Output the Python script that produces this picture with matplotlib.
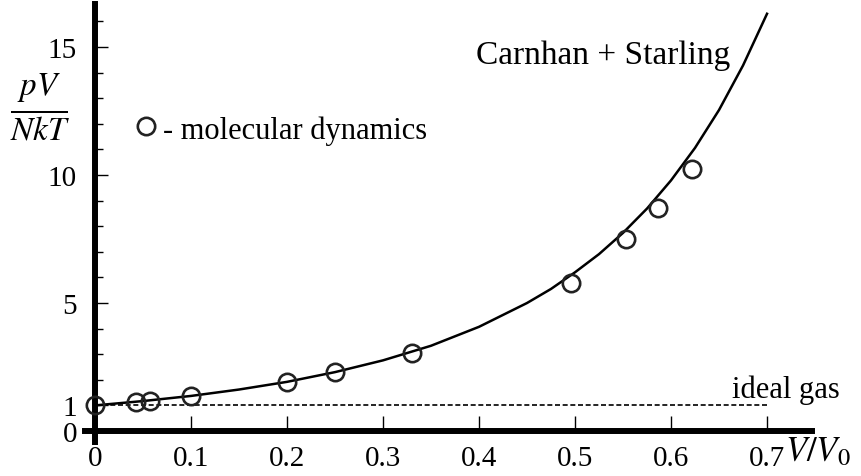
import matplotlib
matplotlib.use('Agg')
import matplotlib.pyplot as plt

plt.rcParams['font.family'] = ['Liberation Serif', 'DejaVu Serif']
plt.rcParams['mathtext.fontset'] = 'stix'

# Carnahan-Starling curve
cs_x = [0.0, 0.05, 0.1, 0.15, 0.2, 0.25, 0.3, 0.35, 0.4, 0.45, 0.475, 0.5,
        0.525, 0.55, 0.575, 0.6, 0.625, 0.65, 0.675, 0.7]
cs_y = [1.0, 1.17, 1.37, 1.62, 1.92, 2.30, 2.76, 3.33, 4.07, 5.0, 5.55, 6.2,
        6.91, 7.74, 8.69, 9.79, 11.06, 12.54, 14.28, 16.3]

# molecular dynamics points
md_x = [0.0, 0.043, 0.057, 0.1, 0.2, 0.25, 0.33, 0.496, 0.553, 0.586, 0.622]
md_y = [1.0, 1.12, 1.16, 1.36, 1.9, 2.3, 3.05, 5.8, 7.5, 8.7, 10.25]

# ideal gas
ig_x = [0.0, 0.7]
ig_y = [1.0, 1.0]

xticks = [0, 0.1, 0.2, 0.3, 0.4, 0.5, 0.6, 0.7]
xlabels = ['0', '0.1', '0.2', '0.3', '0.4', '0.5', '0.6', '0.7']
yticks = [0, 1, 5, 10, 15]
yminor = [2, 3, 4, 6, 7, 8, 9, 11, 12, 13, 14, 16]

fig = plt.figure(figsize=(8.62, 4.77), dpi=100)
ax = fig.add_axes([0.0957, 0.0675, 0.8498, 0.923])

ax.plot(ig_x, ig_y, color='black', lw=1.2, ls=(0, (3, 1.6)))
ax.plot(cs_x, cs_y, color='black', lw=1.8)
ax.plot(md_x, md_y, ls='none', marker='o', ms=12.5, mfc='none', mec='#222222', mew=1.9,
        clip_on=False, zorder=5)

ax.set_xlim(-0.013, 0.75)
ax.set_ylim(-0.5, 16.7)

for s in ['top', 'right']:
    ax.spines[s].set_visible(False)
ax.spines['left'].set_position(('data', 0))
ax.spines['bottom'].set_position(('data', 0))
ax.spines['left'].set_linewidth(4.3)
ax.spines['bottom'].set_linewidth(4.3)
ax.spines['left'].set_bounds(-0.43, 16.7)
ax.spines['bottom'].set_bounds(-0.0104, 0.747)

ax.set_xticks(xticks)
ax.set_xticklabels(xlabels)
ax.set_yticks(yticks)
ax.set_yticks(yminor, minor=True)
ax.tick_params(axis='x', direction='in', length=11, width=1.0, pad=10, labelsize=21)
ax.tick_params(axis='y', which='major', direction='in', length=9, width=1.0, pad=13, labelsize=21)
ax.tick_params(axis='y', which='minor', direction='in', length=6, width=1.0)

ax.text(-0.057, 12.65, r'$\frac{pV}{NkT}$', fontsize=34, ha='center', va='center')
ax.text(0.719, -0.16, r'$V/V_0$', fontsize=25, ha='left', va='top')
ax.text(0.662, 14.7, 'Carnhan + Starling', fontsize=24, ha='right', va='center')
ax.text(0.776, 1.65, 'ideal gas', fontsize=22, ha='right', va='center', clip_on=False)
ax.plot([0.053], [11.9], ls='none', marker='o', ms=12.5, mfc='none', mec='#222222', mew=1.9)
ax.text(0.071, 11.75, '- molecular dynamics', fontsize=22, ha='left', va='center')

fig.savefig('out.png', dpi=100)
